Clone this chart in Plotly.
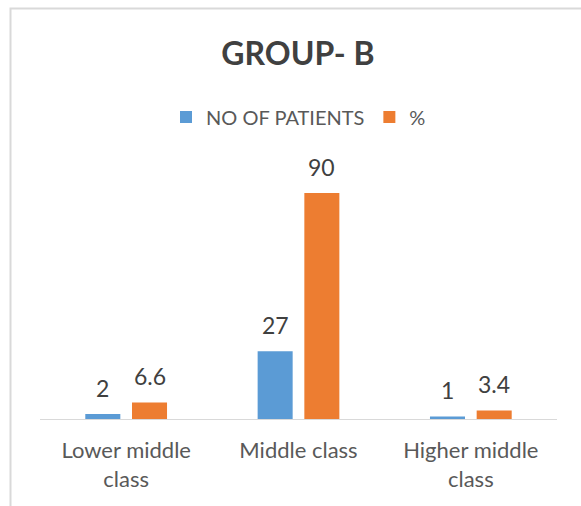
import plotly.graph_objects as go

categories = ["Lower middle<br>class", "Middle class", "Higher middle<br>class"]
patients = [2, 27, 1]
percent = [6.6, 90, 3.4]
patients_labels = ["2", "27", "1"]
percent_labels = ["6.6", "90", "3.4"]

W, H = 581, 506
L, R, T, B = 40, 24, 168, 87
pw, ph = W - L - R, H - T - B

def px_x(p):
    return (p - L) / pw

def px_y(p):
    return (H - B - p) / ph

FONT = "Lato, Carlito, sans-serif"
lab_font = dict(family=FONT, size=23, color="#404040")

fig = go.Figure()
fig.add_trace(go.Bar(name="NO OF PATIENTS", x=categories, y=patients,
                     marker=dict(color="#5b9bd5", line=dict(width=0))))
fig.add_trace(go.Bar(name="%", x=categories, y=percent,
                     marker=dict(color="#ed7d31", line=dict(width=0))))

BARGAP, GROUPGAP = 0.458, 0.25
cat_px = pw / len(categories)
slot_shift = cat_px * (1 - BARGAP) / 4
annotations = []
for vals, labels, sgn in ((patients, patients_labels, -1), (percent, percent_labels, 1)):
    for c, v, t in zip(categories, vals, labels):
        annotations.append(dict(x=c, y=v, xref="x", yref="y", text=t, showarrow=False,
                                xanchor="center", yanchor="bottom", xshift=sgn * slot_shift,
                                yshift=10, font=lab_font))

fig.update_layout(
    template="none",
    width=W, height=H,
    margin=dict(l=L, r=R, t=T, b=B, autoexpand=False),
    paper_bgcolor="white", plot_bgcolor="white",
    barmode="group", bargap=BARGAP, bargroupgap=GROUPGAP,
    title=dict(text="<b>GROUP- B</b>", x=(298 / W), xanchor="center",
               y=1 - 54 / H, yanchor="middle", xref="container", yref="container",
               font=dict(family=FONT, size=32, color="#404040")),
    legend=dict(orientation="h", x=0.5, xanchor="center", y=px_y(117), yanchor="middle",
                font=dict(family=FONT, size=20, color="#595959"),
                itemwidth=30, traceorder="normal"),
    showlegend=True,
    annotations=annotations,
    xaxis=dict(showline=True, linecolor="#d9d9d9", linewidth=1, ticks="",
               tickfont=dict(family=FONT, size=22, color="#595959"),
               ticklabelstandoff=12, showgrid=False, zeroline=False,
               automargin=False, fixedrange=True),
    yaxis=dict(range=[0, 100], visible=False, showgrid=False, zeroline=False,
               automargin=False),
    shapes=[dict(type="rect", xref="paper", yref="paper",
                 x0=px_x(10.5), x1=px_x(W + 20), y0=px_y(H + 20), y1=px_y(8.5),
                 line=dict(color="#d9d9d9", width=2), fillcolor="rgba(0,0,0,0)", layer="below")],
)

fig.write_html("out.html")
